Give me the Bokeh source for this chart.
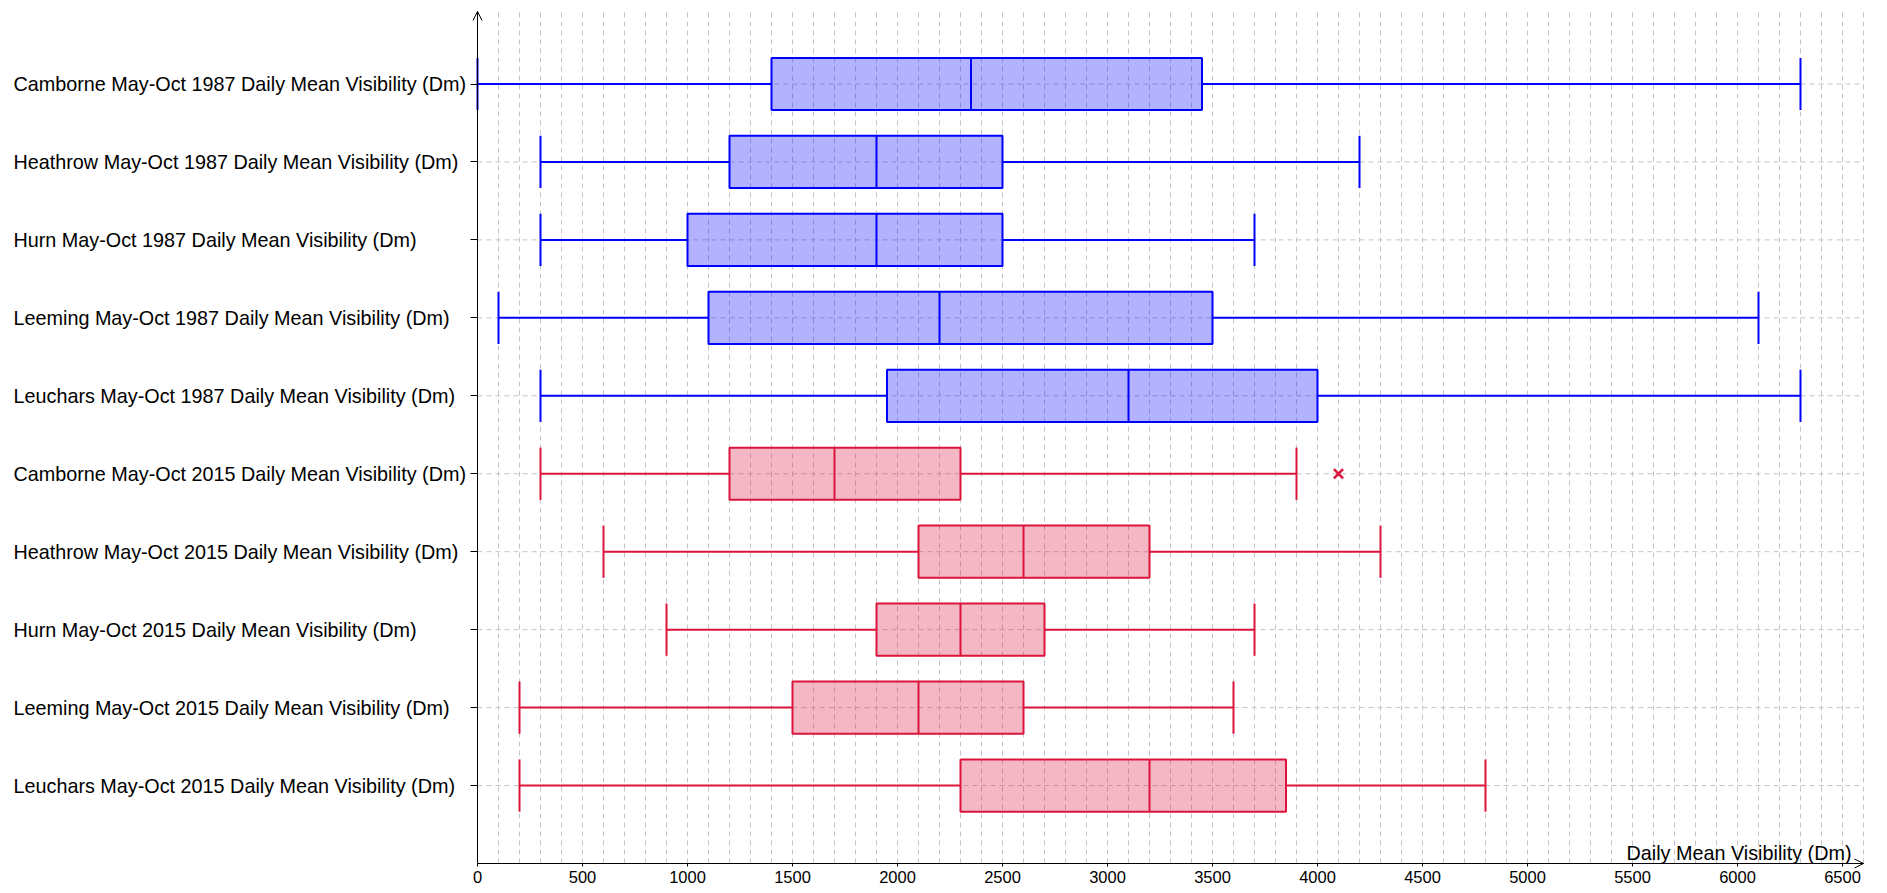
from bokeh.plotting import figure
from bokeh.models import (ColumnDataSource, Range1d, FixedTicker, Label,
                          Arrow, OpenHead)
from bokeh.core.properties import value
from bokeh.embed import file_html
from bokeh.resources import INLINE

categories = [
    "Camborne May-Oct 1987 Daily Mean Visibility (Dm)",
    "Heathrow May-Oct 1987 Daily Mean Visibility (Dm)",
    "Hurn May-Oct 1987 Daily Mean Visibility (Dm)",
    "Leeming May-Oct 1987 Daily Mean Visibility (Dm)",
    "Leuchars May-Oct 1987 Daily Mean Visibility (Dm)",
    "Camborne May-Oct 2015 Daily Mean Visibility (Dm)",
    "Heathrow May-Oct 2015 Daily Mean Visibility (Dm)",
    "Hurn May-Oct 2015 Daily Mean Visibility (Dm)",
    "Leeming May-Oct 2015 Daily Mean Visibility (Dm)",
    "Leuchars May-Oct 2015 Daily Mean Visibility (Dm)",
]
years = ["1987", "1987", "1987", "1987", "1987", "2015", "2015", "2015", "2015", "2015"]
mins = [0, 300, 300, 100, 300, 300, 600, 900, 200, 200]
q1 = [1400, 1200, 1000, 1100, 1950, 1200, 2100, 1900, 1500, 2300]
medians = [2350, 1900, 1900, 2200, 3100, 1700, 2600, 2300, 2100, 3200]
q3 = [3450, 2500, 2500, 3500, 4000, 2300, 3200, 2700, 2600, 3850]
maxs = [6300, 4200, 3700, 6100, 6300, 3900, 4300, 3700, 3600, 4800]
outlier_cats = ["Camborne May-Oct 2015 Daily Mean Visibility (Dm)"]
outlier_vals = [4100]
x_ticks = list(range(0, 6501, 500))
x_grid = list(range(100, 6601, 100))
x_max = 6600
axis_title = "Daily Mean Visibility (Dm)"

year_colors = {"1987": "#0000ff", "2015": "#dc143c"}
FONT = "Liberation Sans"
LABEL_SIZE = "19.8px"
BOX_H = 0.67
GRID_COLOR = "#c4c4c4"
GRID_DASH = "5 4"

n = len(categories)
rows = [n - 1 - i for i in range(n)]
row_of = dict(zip(categories, rows))
colors = [year_colors[y] for y in years]

# plot area geometry (pixels): value axis from 0 to x_max over 1386 px,
# category rows 77.95 px apart; the frame also holds the label column.
PX_X = 1386 / x_max
PX_Y = 77.95
W, H = 1875, 888
LEFT_PX = 477
y_axis_pos = -1.0
y_top_val = 9.93
x_start = -LEFT_PX / PX_X
x_end = (W - LEFT_PX) / PX_X
y_start = y_axis_pos - (H - 863) / PX_Y
y_end = y_axis_pos + 863 / PX_Y

src = ColumnDataSource(dict(
    cat=categories, y=rows, lo=mins, q1=q1, med=medians, q3=q3, hi=maxs,
    color=colors,
    ybot=[r - BOX_H / 2 for r in rows], ytop=[r + BOX_H / 2 for r in rows],
    x0=[0] * n,
))

p = figure(width=W, height=H,
           x_range=Range1d(x_start, x_end), y_range=Range1d(y_start, y_end),
           output_backend="svg", toolbar_location=None, min_border=0)
p.outline_line_color = None
p.background_fill_color = "white"
p.xgrid.visible = False
p.ygrid.visible = False

# grid lines (dashed), limited to the data area
p.segment(x0=x_grid, y0=[y_axis_pos] * len(x_grid), x1=x_grid, y1=[y_top_val] * len(x_grid),
          line_color=GRID_COLOR, line_dash=GRID_DASH, line_width=1, level="underlay")
p.segment(x0=[0] * n, y0=rows, x1=[x_max] * n, y1=rows,
          line_color=GRID_COLOR, line_dash=GRID_DASH, line_width=1, level="underlay")

# x axis
p.xaxis.fixed_location = y_axis_pos
p.xaxis.bounds = (0, x_max)
p.xaxis.ticker = FixedTicker(ticks=x_ticks)
p.xaxis.major_tick_out = 3
p.xaxis.major_tick_in = 0
p.xaxis.minor_tick_out = 0
p.xaxis.minor_tick_in = 0
p.xaxis.axis_line_color = "black"
p.xaxis.major_tick_line_color = "black"
p.xaxis.major_label_text_font = FONT
p.xaxis.major_label_text_font_size = "16.5px"
p.xaxis.major_label_text_color = "black"
p.xaxis.major_label_standoff = 4

# y axis
p.yaxis.fixed_location = 0
p.yaxis.bounds = (y_axis_pos, y_top_val)
p.yaxis.ticker = FixedTicker(ticks=rows)
p.yaxis.major_tick_out = 7
p.yaxis.major_tick_in = 0
p.yaxis.minor_tick_out = 0
p.yaxis.minor_tick_in = 0
p.yaxis.axis_line_color = "black"
p.yaxis.major_tick_line_color = "black"
p.yaxis.major_label_overrides = {r: "" for r in rows}
p.yaxis.major_label_standoff = 0

# whiskers
p.segment(x0="lo", y0="y", x1="q1", y1="y", source=src, line_color="color", line_width=2)
p.segment(x0="q3", y0="y", x1="hi", y1="y", source=src, line_color="color", line_width=2)
p.segment(x0="lo", y0="ybot", x1="lo", y1="ytop", source=src, line_color="color", line_width=2)
p.segment(x0="hi", y0="ybot", x1="hi", y1="ytop", source=src, line_color="color", line_width=2)
# boxes
p.hbar(y="y", left="q1", right="q3", height=BOX_H, source=src,
       fill_color="color", fill_alpha=0.3, line_color="color", line_width=2)
# medians
p.segment(x0="med", y0="ybot", x1="med", y1="ytop", source=src, line_color="color", line_width=2)

# outliers
out_src = ColumnDataSource(dict(x=outlier_vals, y=[row_of[c] for c in outlier_cats]))
p.scatter(x="x", y="y", source=out_src, marker="x", size=13, line_width=2.5,
          line_color=year_colors["2015"])

# category labels (left aligned in the label column)
p.text(x="x0", y="y", text="cat", source=src, x_offset=-464,
       text_align="left", text_baseline="middle",
       text_font=value(FONT), text_font_size=value(LABEL_SIZE), text_color="black")

# axis title
p.add_layout(Label(x=x_max, y=y_axis_pos, text=axis_title,
                   x_offset=-12, text_align="right", text_baseline="bottom",
                   text_font=FONT, text_font_size=LABEL_SIZE, text_color="black"))

# axis arrows
p.add_layout(Arrow(end=OpenHead(size=9, line_width=1, line_color="black"),
                   x_start=x_max - 100, y_start=y_axis_pos,
                   x_end=x_max, y_end=y_axis_pos,
                   line_color="black", line_width=1))
p.add_layout(Arrow(end=OpenHead(size=9, line_width=1, line_color="black"),
                   x_start=0, y_start=y_top_val - 0.3,
                   x_end=0, y_end=y_top_val,
                   line_color="black", line_width=1))

open("out.html", "w").write(file_html(p, INLINE))
